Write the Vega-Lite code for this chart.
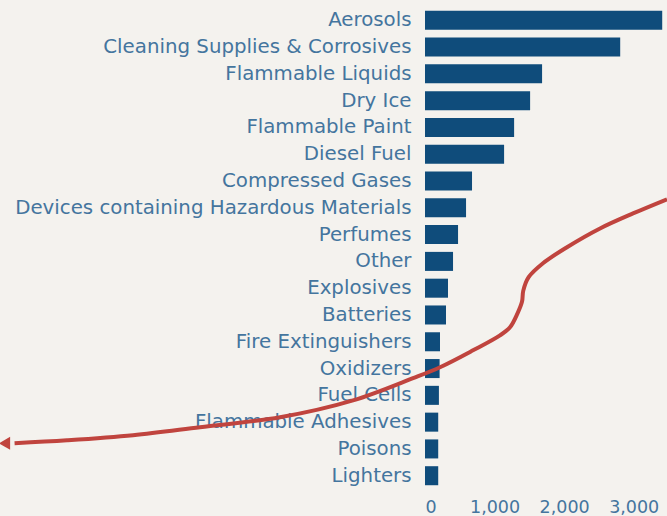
{
  "$schema": "https://vega.github.io/schema/vega-lite/v6.json",
  "autosize": "none",
  "width": 240,
  "height": 490,
  "padding": {"left": 425, "top": 3, "right": 2, "bottom": 23},
  "background": "#f4f2ee",
  "config": {
    "view": {"stroke": null},
    "font": "DejaVu Sans",
    "axis": {"labelFont": "DejaVu Sans", "labelColor": "#44759e", "domain": false, "ticks": false, "grid": false, "title": null}
  },
  "datasets": {
    "bars": [
      {"category": "Aerosols", "count": 3410},
      {"category": "Cleaning Supplies & Corrosives", "count": 2806},
      {"category": "Flammable Liquids", "count": 1683},
      {"category": "Dry Ice", "count": 1511},
      {"category": "Flammable Paint", "count": 1281},
      {"category": "Diesel Fuel", "count": 1137},
      {"category": "Compressed Gases", "count": 676},
      {"category": "Devices containing Hazardous Materials", "count": 590},
      {"category": "Perfumes", "count": 475},
      {"category": "Other", "count": 403},
      {"category": "Explosives", "count": 331},
      {"category": "Batteries", "count": 302},
      {"category": "Fire Extinguishers", "count": 216},
      {"category": "Oxidizers", "count": 210},
      {"category": "Fuel Cells", "count": 200},
      {"category": "Flammable Adhesives", "count": 190},
      {"category": "Poisons", "count": 190},
      {"category": "Lighters", "count": 190}
    ],
    "arrow": [
      {"step": 1, "x": 3479, "y": 6.68},
      {"step": 2, "x": 2990, "y": 7.21},
      {"step": 3, "x": 2516, "y": 7.77},
      {"step": 4, "x": 2041, "y": 8.47},
      {"step": 5, "x": 1696, "y": 9.07},
      {"step": 6, "x": 1490, "y": 9.59},
      {"step": 7, "x": 1412, "y": 10.1},
      {"step": 8, "x": 1395, "y": 10.5},
      {"step": 9, "x": 1330, "y": 10.94},
      {"step": 10, "x": 1222, "y": 11.46},
      {"step": 11, "x": 1078, "y": 11.76},
      {"step": 12, "x": 690, "y": 12.32},
      {"step": 13, "x": 216, "y": 12.95},
      {"step": 14, "x": -172, "y": 13.36},
      {"step": 15, "x": -1035, "y": 14.19},
      {"step": 16, "x": -2084, "y": 14.82},
      {"step": 17, "x": -3234, "y": 15.19},
      {"step": 18, "x": -4197, "y": 15.49},
      {"step": 19, "x": -5146, "y": 15.68},
      {"step": 20, "x": -5900, "y": 15.79}
    ],
    "head": [
      {"x": -6045, "y": 15.79}
    ]
  },
  "layer": [
    {
      "data": {"name": "bars"},
      "mark": {"type": "bar", "color": "#0f4c7b"},
      "encoding": {
        "y": {"field": "category", "type": "nominal", "sort": null,
              "scale": {"paddingInner": 0.29, "paddingOuter": 0.29},
              "axis": {"labelFontSize": 19.8, "labelPadding": 14, "labelLimit": 500}},
        "x": {"field": "count", "type": "quantitative",
              "scale": {"domain": [0, 3450], "nice": false},
              "axis": {"values": [0, 1000, 2000, 3000], "format": ",.0f", "labelFontSize": 17.5, "labelPadding": 5}}
      }
    },
    {
      "data": {"name": "arrow"},
      "mark": {"type": "line", "color": "#c0443e", "strokeWidth": 4, "clip": false, "interpolate": "catmull-rom"},
      "encoding": {
        "x": {"field": "x", "type": "quantitative"},
        "y": {"field": "y", "type": "quantitative", "scale": {"domain": [-0.645, 17.645], "reverse": true, "nice": false, "zero": false}, "axis": null},
        "order": {"field": "step", "type": "quantitative"}
      }
    },
    {
      "data": {"name": "head"},
      "mark": {"type": "point", "shape": "triangle-left", "filled": true, "color": "#c0443e", "opacity": 1, "size": 170, "clip": false},
      "encoding": {
        "x": {"field": "x", "type": "quantitative"},
        "y": {"field": "y", "type": "quantitative", "scale": {"domain": [-0.645, 17.645], "reverse": true, "nice": false, "zero": false}, "axis": null}
      }
    }
  ],
  "resolve": {"scale": {"y": "independent"}}
}
